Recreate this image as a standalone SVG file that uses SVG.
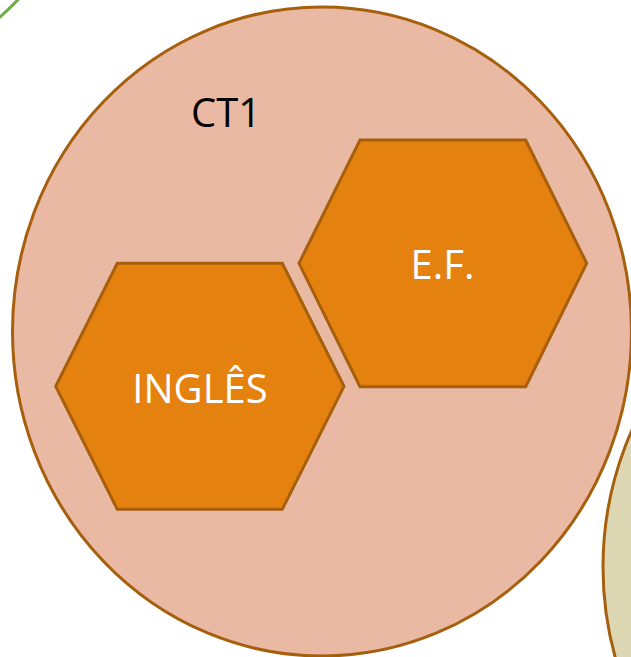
<svg xmlns="http://www.w3.org/2000/svg" width="631" height="657" viewBox="0 0 631 657">
<style>
.circ{stroke:#A65F0C;stroke-width:3}
.hex{fill:#E5820F;stroke:#A65F0C;stroke-width:3;stroke-linejoin:miter}
.lbl{font-family:"Open Sans","Liberation Sans",sans-serif;font-size:40px;text-anchor:middle}
</style>
<rect width="631" height="657" fill="#FFFFFF"/>
<g id="green-circle"><ellipse cx="-200" cy="-230" rx="309" ry="324" fill="none" stroke="#70AD47" stroke-width="3"/></g>
<g id="ct2-circle"><ellipse class="circ" cx="912" cy="567" rx="309" ry="324" fill="#DDD8B3"/></g>
<g id="ct1">
<ellipse class="circ" cx="322" cy="331.5" rx="309.5" ry="324.5" fill="#EAB9A4"/>
<text class="lbl" x="226" y="127" fill="#000000" font-size="41">CT1</text>
</g>
<g id="ingles">
<polygon class="hex" points="117.3,263.3 282.3,263.3 344,386.3 282.3,509.3 117.3,509.3 55.7,386.3"/>
<text class="lbl" x="200" y="403" fill="#FFFFFF">INGLÊS</text>
</g>
<g id="ef">
<polygon class="hex" points="360,140 525.7,140 586.7,263.3 525.7,386.7 360,386.7 299,263.3"/>
<text class="lbl" x="442.5" y="278.5" fill="#FFFFFF">E.F.</text>
</g>
<g id="connectors"></g>
</svg>
